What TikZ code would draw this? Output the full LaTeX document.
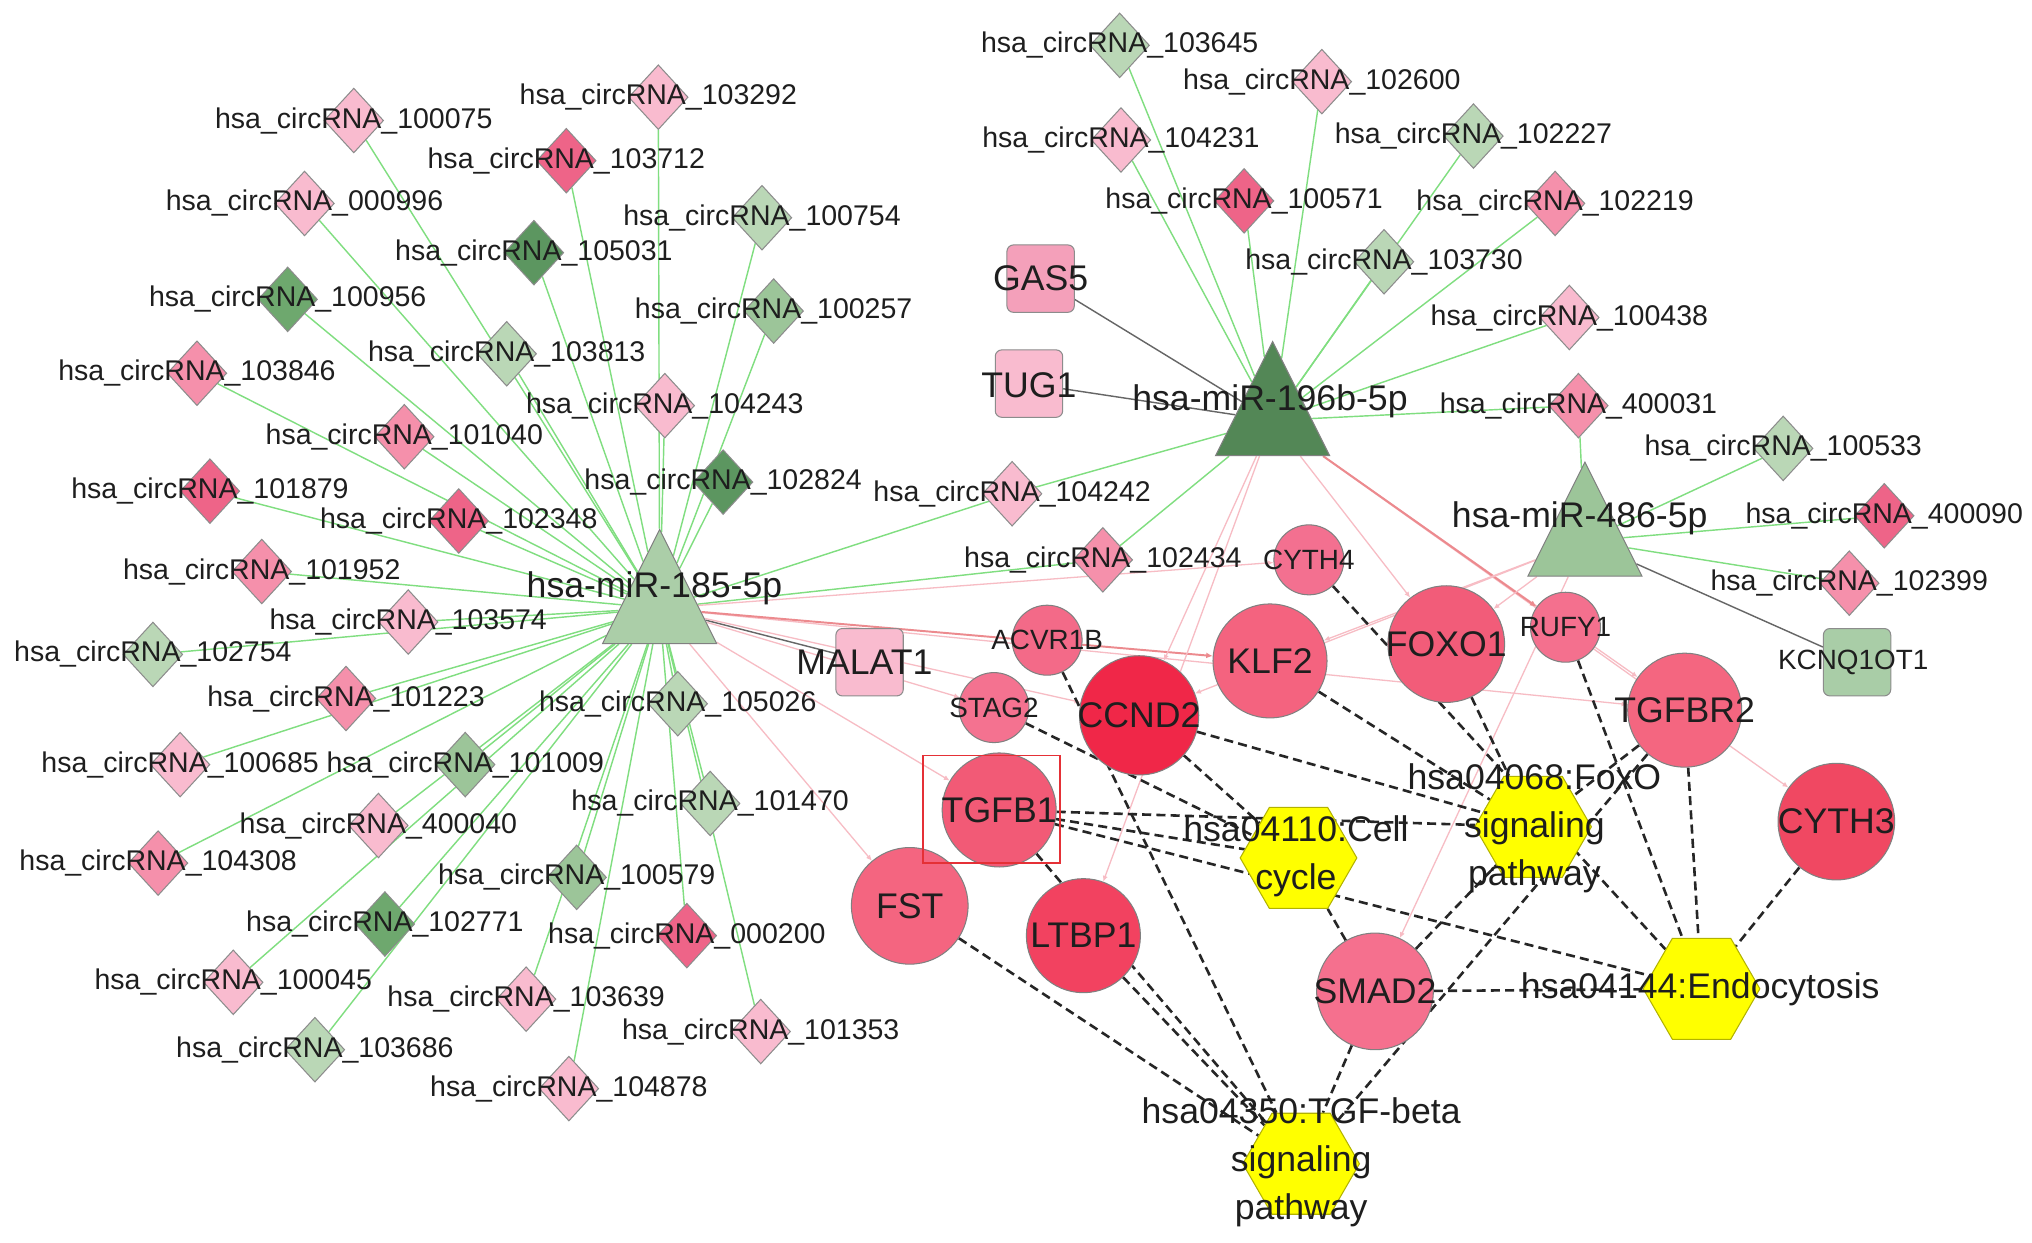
\documentclass[tikz,border=0pt]{standalone}
\usepackage{fontspec}
\setmainfont{Liberation Sans}
\usetikzlibrary{shapes.geometric,arrows.meta}
\pgfdeclarelayer{bg}
\pgfsetlayers{bg,main}
\definecolor{lp}{HTML}{F9BBCF}
\definecolor{mp}{HTML}{F590AB}
\definecolor{dp}{HTML}{EE6488}
\definecolor{lg}{HTML}{BAD7B6}
\definecolor{mg}{HTML}{9CC599}
\definecolor{dg}{HTML}{6EA86E}
\definecolor{vg}{HTML}{5C9660}
\definecolor{gline}{HTML}{80DE80}
\definecolor{pline}{HTML}{F7BCC4}
\definecolor{rline}{HTML}{EC8A8E}
\definecolor{hexy}{HTML}{FFFF00}
\definecolor{txt}{HTML}{1E1E1E}
\definecolor{gasc}{HTML}{F4A0BA}
\definecolor{kcnc}{HTML}{A9CDA7}
\definecolor{boxred}{HTML}{E53036}
\newcommand\ftA{\fontsize{22}{24}\selectfont}
\newcommand\ftB{\fontsize{27.5}{30}\selectfont}
\newcommand\ftC{\fontsize{21.5}{24}\selectfont}
\newcommand\ftP{\fontsize{27.5}{37}\selectfont}
\newcommand\crna[4]{\node[dia,fill=#4,label={[lbl]center:hsa\_circRNA\_#1}] (c#1) at (#2,#3) {};}
\newcommand\gene[6]{\definecolor{col#1}{HTML}{#5}\node[circle,draw=black!50,line width=0.8,inner sep=0,minimum size=#4,fill=col#1,label={[#6]center:#1}] (#1) at (#2,#3) {};}
\begin{document}
\begin{tikzpicture}[x=1pt,y=-1pt,
  dia/.style={diamond,draw=black!45,line width=0.8,minimum width=46,minimum height=50,inner sep=0},
  lbl/.style={font=\ftA,text=txt,inner sep=0},
  big/.style={font=\ftB,text=txt,inner sep=0},
  sml/.style={font=\ftC,text=txt,inner sep=0},
  pth/.style={font=\ftP,text=txt,inner sep=0,align=center},
  tri/.style={isosceles triangle,isosceles triangle stretches,shape border rotate=90,minimum width=88,minimum height=88,inner sep=0,draw=black!50,line width=0.8,anchor=lower side},
  sq/.style={rectangle,rounded corners=5,draw=black!45,line width=0.8,minimum width=52,minimum height=52,inner sep=0},
  hexa/.style={regular polygon,regular polygon sides=6,minimum size=90,inner sep=0,fill=hexy,draw=black!30!hexy,line width=0.8},
  gedge/.style={draw=gline,line width=1.1},
  gyedge/.style={draw=black!60,line width=1.1},
  pedge/.style={draw=pline,line width=1,-{Latex[length=4.5pt,width=4pt]}},
  redge/.style={draw=rline,line width=1.5,-{Latex[length=5pt,width=4.5pt]}},
  dedge/.style={draw=black!85,line width=2,dash pattern=on 7pt off 4pt},
]
\useasboundingbox (0,0) rectangle (1568,959);
\begin{pgfonlayer}{bg}
\fill[white] (0,0) rectangle (1568,959);
\end{pgfonlayer}
% circRNAs
\crna{100075}{273}{93}{lp}
\crna{103292}{508}{75}{lp}
\crna{103712}{437}{124}{dp}
\crna{000996}{235}{157}{lp}
\crna{100754}{588}{168}{lg}
\crna{105031}{412}{195}{vg}
\crna{100956}{222}{231}{dg}
\crna{100257}{597}{240}{mg}
\crna{103813}{391}{273}{lg}
\crna{103846}{152}{288}{mp}
\crna{104243}{513}{313}{lp}
\crna{101040}{312}{337}{mp}
\crna{102824}{558}{372}{vg}
\crna{101879}{162}{379}{dp}
\crna{102348}{354}{402}{dp}
\crna{101952}{202}{441}{mp}
\crna{103574}{315}{480}{lp}
\crna{102754}{118}{505}{lg}
\crna{101223}{267}{539}{mp}
\crna{105026}{523}{543}{lg}
\crna{100685}{139}{590}{lp}
\crna{101009}{359}{590}{mg}
\crna{101470}{548}{620}{lg}
\crna{400040}{292}{637}{lp}
\crna{104308}{122}{666}{mp}
\crna{100579}{445}{677}{mg}
\crna{102771}{297}{713}{dg}
\crna{000200}{530}{722}{dp}
\crna{100045}{180}{758}{lp}
\crna{103639}{406}{771}{lp}
\crna{101353}{587}{796}{lp}
\crna{103686}{243}{810}{lg}
\crna{104878}{439}{840}{lp}
\crna{104242}{781}{381}{lp}
\crna{102434}{851}{432}{mp}
\crna{103645}{864}{35}{lg}
\crna{102600}{1020}{63}{lp}
\crna{104231}{865}{108}{lp}
\crna{102227}{1137}{105}{lg}
\crna{100571}{960}{155}{dp}
\crna{102219}{1200}{157}{mp}
\crna{103730}{1068}{202}{lg}
\crna{100438}{1211}{245}{lp}
\crna{400031}{1218}{313}{mp}
\crna{100533}{1376}{346}{lg}
\crna{400090}{1454}{398}{dp}
\crna{102399}{1427}{450}{mp}
% miRNAs
\node[tri,fill=mg!85!white] (m185) at (509,497) {};
\node[tri,fill=vg!90!black] (m196) at (982,352) {};
\node[tri,fill=mg] (m486) at (1223,445) {};
% lncRNAs
\node[sq,fill=gasc] (GAS5) at (803,215) {};
\node[sq,fill=lp] (TUG1) at (794,296) {};
\node[sq,fill=lp] (MALAT1) at (671,511) {};
\node[sq,fill=kcnc] (KCNQ1OT1) at (1433,511) {};
% genes
\gene{CYTH4}{1010}{432}{54}{F37090}{sml}
\gene{ACVR1B}{808}{494}{54}{F36A88}{sml}
\gene{STAG2}{767}{546}{54}{F47290}{sml}
\gene{KLF2}{980}{510}{88}{F4637F}{big}
\gene{FOXO1}{1116}{497}{90}{F25C79}{big}
\gene{RUFY1}{1208}{484}{54}{F4708E}{sml}
\gene{CCND2}{879}{552}{92}{F02748}{big}
\gene{TGFBR2}{1300}{548}{88}{F46680}{big}
\gene{CYTH3}{1417}{634}{90}{F04862}{big}
\gene{TGFB1}{771}{625}{88}{F25A76}{big}
\gene{FST}{702}{699}{90}{F46580}{big}
\gene{LTBP1}{836}{722}{88}{F24260}{big}
\gene{SMAD2}{1061}{765}{90}{F5708E}{big}
\node[draw=boxred,line width=1.4,minimum width=106,minimum height=83,inner sep=0] (box) at (765,624.5) {};
% pathways
\node[hexa] (cell) at (1002,662) {};
\node[hexa] (foxo) at (1183,638) {};
\node[hexa] (endo) at (1313,763) {};
\node[hexa] (tgfb) at (1004,898) {};
% edges
\begin{pgfonlayer}{bg}
\foreach \c in {100075,103292,103712,000996,100754,105031,100956,100257,103813,103846,104243,101040,102824,101879,102348,101952,103574,102754,101223,105026,100685,101009,101470,400040,104308,100579,102771,000200,100045,103639,101353,103686,104878,104242,102434}
  \draw[gedge] (c\c) -- (m185);
\foreach \c in {103645,104231,102600,100571,102227,102219,103730,100438,400031,104242,102434}
  \draw[gedge] (c\c) -- (m196);
\foreach \c in {400031,100533,400090,102399}
  \draw[gedge] (c\c) -- (m486);
\draw[gyedge] (MALAT1) -- (m185);
\draw[gyedge] (GAS5) -- (m196);
\draw[gyedge] (TUG1) -- (m196);
\draw[gyedge] (KCNQ1OT1) -- (m486);
\foreach \g in {CYTH4,TGFBR2,STAG2,CCND2,TGFB1,FST}
  \draw[pedge] (m185) -- (\g);
\draw[redge] (m185) -- (KLF2);
\foreach \g in {CCND2,LTBP1,FOXO1,TGFBR2,CYTH3}
  \draw[pedge] (m196) -- (\g);
\draw[redge] (m196) -- (RUFY1);
\foreach \g in {FOXO1,KLF2,CCND2,SMAD2}
  \draw[pedge] (m486) -- (\g);
\foreach \g in {TGFB1,SMAD2,CCND2,STAG2}
  \draw[dedge] (\g) -- (cell);
\foreach \g in {TGFB1,TGFBR2,SMAD2,CCND2,FOXO1,KLF2}
  \draw[dedge] (\g) -- (foxo);
\foreach \g in {TGFB1,TGFBR2,SMAD2,CYTH3,CYTH4,RUFY1}
  \draw[dedge] (\g) -- (endo);
\foreach \g in {TGFB1,TGFBR2,SMAD2,ACVR1B,LTBP1,FST}
  \draw[dedge] (\g) -- (tgfb);
\end{pgfonlayer}
% labels
\node[big] (t185) at (505,454) {hsa-miR-185-5p};
\node[big] (t196) at (980,310) {hsa-miR-196b-5p};
\node[big] (t486) at (1219,400) {hsa-miR-486-5p};
\node[big] (tGAS5) at (803,215) {GAS5};
\node[big] (tTUG1) at (794,297) {TUG1};
\node[big] (tMALAT1) at (667,511) {MALAT1};
\node[sml] (tKCNQ) at (1430,511) {KCNQ1OT1};
\node[pth] (tcell) at (1000,661) {hsa04110:Cell\\cycle};
\node[pth] (tfoxo) at (1184,639) {hsa04068:FoxO\\signaling\\pathway};
\node[pth] (tendo) at (1312,763) {hsa04144:Endocytosis};
\node[pth] (ttgfb) at (1004,897) {hsa04350:TGF-beta\\signaling\\pathway};
\end{tikzpicture}
\end{document}
